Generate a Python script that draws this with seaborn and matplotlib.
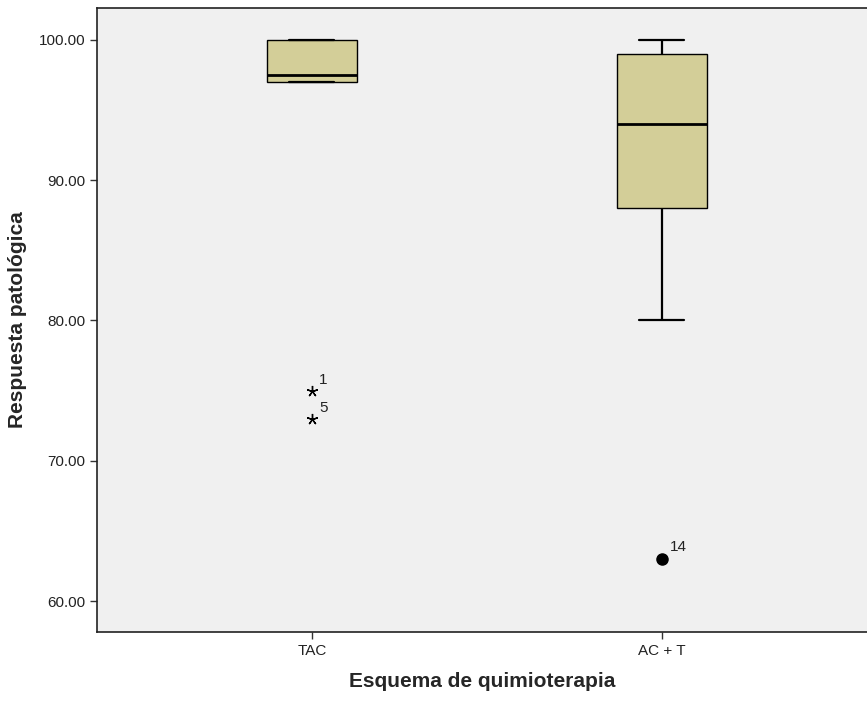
import numpy as np
import pandas as pd
import matplotlib
matplotlib.use("Agg")
import matplotlib.pyplot as plt
import seaborn as sns

# data (cases per chemotherapy scheme)
tac_vals = [73, 75, 97, 97, 97, 98, 100, 100, 100, 100]
act_vals = [63, 80, 85, 88, 90, 92, 94, 96, 98, 99, 100, 100, 100]
groups = ["TAC", "AC + T"]
# labelled outliers: (group, value, case id, kind)
out_group = ["TAC", "TAC", "AC + T"]
out_value = [75, 73, 63]
out_case = ["1", "5", "14"]
out_extreme = [True, True, False]

df = pd.DataFrame({
    "Esquema": ["TAC"] * len(tac_vals) + ["AC + T"] * len(act_vals),
    "Respuesta": tac_vals + act_vals,
})

sns.set_theme(style="white")
plt.rcParams["font.family"] = ["Liberation Sans", "DejaVu Sans"]

fig = plt.figure(figsize=(8.67, 7.05), dpi=100)
ax = fig.add_axes([0.1119, 0.1035, 0.8881, 0.8852])
ax.set_facecolor("#f0f0f0")

sns.boxplot(
    data=df, x="Esquema", y="Respuesta", order=groups, ax=ax,
    width=0.257, whis=1.5, showfliers=False, color="#d3ce98",
    linewidth=1, linecolor="black", saturation=1,
    medianprops=dict(color="black", linewidth=2),
    capprops=dict(color="black", linewidth=1.6),
    whiskerprops=dict(color="black", linewidth=1.6),
)

pos = {g: i for i, g in enumerate(groups)}
for g, v, c, ext in zip(out_group, out_value, out_case, out_extreme):
    x = pos[g]
    if ext:
        ax.plot(x, v, marker=(5, 2, 0), color="black", ms=8, mew=1, ls="none")
    else:
        ax.plot(x, v, marker="o", color="black", ms=8, ls="none")
    ax.annotate(c, (x, v), xytext=(5, 5) if ext else (6, 6), textcoords="offset points",
                fontsize=11, color="#222222")

ax.set_xlim(-0.614, 1.586)
ax.set_ylim(57.79, 102.28)
ax.set_yticks([60, 70, 80, 90, 100])
ax.set_yticklabels([f"{t:.2f}" for t in [60, 70, 80, 90, 100]])
ax.tick_params(axis="both", which="major", direction="out", length=5, width=1,
               labelsize=11, colors="#333333", labelcolor="#222222", left=True, bottom=True)

for side in ["left", "bottom", "top"]:
    ax.spines[side].set_color("#222222")
    ax.spines[side].set_linewidth(1.2)
ax.spines["right"].set_visible(False)

ax.set_xlabel("Esquema de quimioterapia", fontsize=15, fontweight="bold", labelpad=10)
ax.set_ylabel("Respuesta patológica", fontsize=15, fontweight="bold", labelpad=8)

fig.savefig("out.png", dpi=100)
